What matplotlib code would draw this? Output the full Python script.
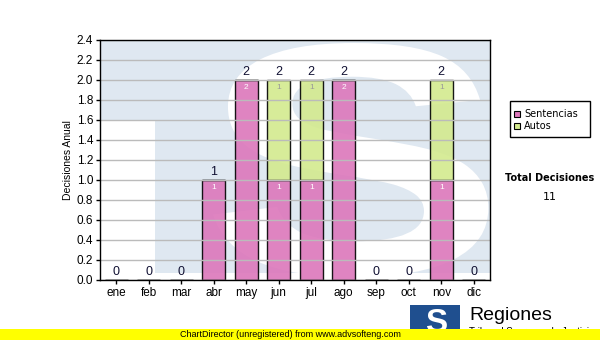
import numpy as np
import matplotlib.pyplot as plt
from matplotlib.textpath import TextPath
from matplotlib.font_manager import FontProperties
from matplotlib.patches import PathPatch, Rectangle
from matplotlib.transforms import Affine2D

plt.rcParams['font.family'] = ['Liberation Sans', 'DejaVu Sans']

meses = ["ene", "feb", "mar", "abr", "may", "jun", "jul", "ago", "sep", "oct", "nov", "dic"]
sentencias = [0, 0, 0, 1, 2, 1, 1, 2, 0, 0, 1, 0]
autos = [0, 0, 0, 0, 0, 1, 1, 0, 0, 0, 1, 0]
total = 11

fig = plt.figure(figsize=(6, 3.4), dpi=100)
ax = fig.add_axes([100/600, 60/340, 390/600, 240/340])
ax.set_xlim(-0.5, 11.5)
ax.set_ylim(0, 2.4)

# marca de agua "TS" de fondo
azul = '#dfe8f1'
ax.add_patch(Rectangle((1.19, 0.07), 11.5 - 1.19, 2.4, color=azul, zorder=0, lw=0))
ax.add_patch(Rectangle((-0.5, 1.6), 1.7, 0.8, color=azul, zorder=0, lw=0))
tp = TextPath((0, 0), "S", size=1, prop=FontProperties(family='Liberation Sans', weight='bold'))
bb = tp.get_extents()
sx = (11.45 - 2.98) / bb.width
sy = (2.37 - 0.03) / bb.height
tr = Affine2D().translate(-bb.x0, -bb.y0).scale(sx, sy).translate(2.98, 0.03) + ax.transData
ax.add_patch(PathPatch(tp, transform=tr, color='white', lw=0, zorder=0.5))

# rejilla
ax.set_yticks(np.arange(0, 2.41, 0.2))
ax.set_yticklabels(["%.1f" % v for v in np.arange(0, 2.41, 0.2)], fontsize=8.5)
ax.yaxis.grid(True, color='#bbbbbb', lw=1)
ax.set_axisbelow(False)
for l in ax.get_ygridlines():
    l.set_zorder(1)

x = np.arange(len(meses))
ax.bar(x, sentencias, width=0.7, color='#dc77bb', alpha=0.9, edgecolor='black', lw=1, zorder=2)
ax.bar(x, autos, width=0.7, bottom=sentencias, color='#d3ea8e', alpha=0.9, edgecolor='black', lw=1, zorder=2)

for i in range(len(meses)):
    s = sentencias[i]
    a = autos[i]
    ax.text(i, s + a + 0.02, str(s + a), ha='center', va='bottom', fontsize=9, color='#111133', zorder=3)
    if s > 0:
        ax.text(i, s - 0.04, str(s), ha='center', va='top', fontsize=6, color='white', zorder=3)
    if a > 0:
        ax.text(i, s + a - 0.04, str(a), ha='center', va='top', fontsize=6, color='#999999', zorder=3)

ax.set_xticks(x)
ax.set_xticklabels(meses, fontsize=8.5)
ax.tick_params(direction='out', length=3, width=1, pad=2)
for sp in ax.spines.values():
    sp.set_linewidth(1)
    sp.set_zorder(4)
ax.set_ylabel("Decisiones Anual", fontsize=7.5)
ax.yaxis.set_label_coords(-0.068, 0.5)

# leyenda
fig.patches.append(Rectangle((510/600, 1 - 137/340), 80/600, 36/340, transform=fig.transFigure,
                             facecolor='white', edgecolor='black', lw=1))
fig.patches.append(Rectangle((514/600, 1 - 117/340), 6/600, 6/340, transform=fig.transFigure,
                             facecolor='#dc77bb', edgecolor='black', lw=0.8))
fig.patches.append(Rectangle((514/600, 1 - 129/340), 6/600, 6/340, transform=fig.transFigure,
                             facecolor='#d3ea8e', edgecolor='black', lw=0.8))
fig.text(524/600, 1 - 114/340, "Sentencias", fontsize=7, va='center', family=['DejaVu Sans'])
fig.text(524/600, 1 - 126/340, "Autos", fontsize=7, va='center', family=['DejaVu Sans'])

fig.text(550/600, 1 - 178/340, "Total Decisiones", fontsize=7, fontweight='bold', ha='center', va='center',
         family=['DejaVu Sans'])
fig.text(550/600, 1 - 197/340, str(total), fontsize=8, ha='center', va='center', family=['DejaVu Sans'])

# logo
fig.patches.append(Rectangle((410/600, 0), 50/600, 35/340, transform=fig.transFigure,
                             facecolor='#1f4f8f', edgecolor='none'))
fig.text(436/600, 17/340, "S", fontsize=24, fontweight='bold', color='white', ha='center', va='center')
fig.text(469/600, 24/340, "Regiones", fontsize=14, ha='left', va='center')
fig.text(469/600, 8/340, "Tribunal Supremo de Justicia", fontsize=7, ha='left', va='center')

# banda amarilla
fig.patches.append(Rectangle((0, 0), 1, 11/340, transform=fig.transFigure,
                             facecolor='#ffff00', edgecolor='none', zorder=5))
fig.text(290/600, 5.5/340, "ChartDirector (unregistered) from www.advsofteng.com", fontsize=6.5,
         ha='center', va='center', zorder=6)

fig.savefig("out.png", dpi=100)
